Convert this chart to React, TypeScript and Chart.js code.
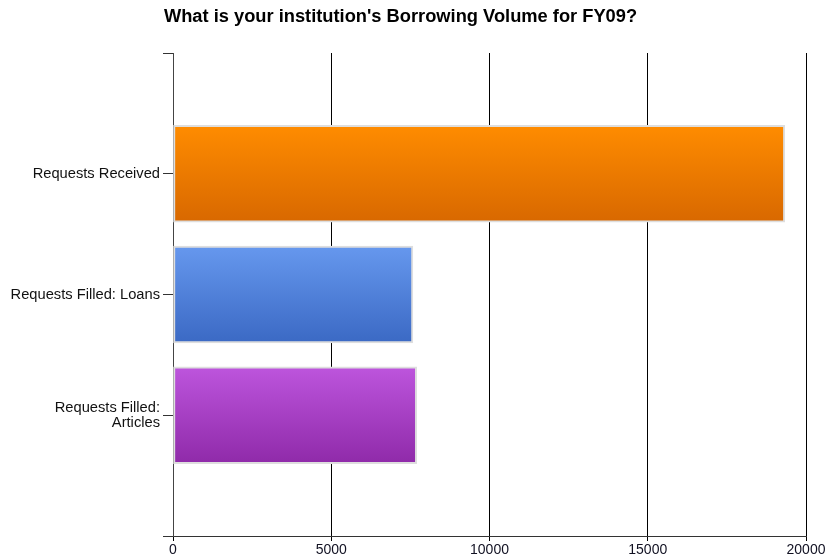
import React, { useEffect, useRef } from "react";
import { Chart, registerables } from "chart.js";

Chart.register(...registerables);

const TITLE = "What is your institution's Borrowing Volume for FY09?";
const categories: (string | string[])[] = [
  "",
  "Requests Received",
  "Requests Filled: Loans",
  ["Requests Filled:", "Articles"],
  "",
];
const values: (number | null)[] = [null, 19330, 7580, 7700, null];
const xTicks = [0, 5000, 10000, 15000, 20000];
const gradientTop = ["#ff8c00", "#ff8c00", "#6698ee", "#bd55dd", "#bd55dd"];
const gradientBottom = ["#d86800", "#d86800", "#3b69c4", "#8f2aa9", "#8f2aa9"];

const BAR_THICKNESS = 97;

const titlePlugin = {
  id: "customTitle",
  afterDraw(chart: any) {
    const ctx = chart.ctx;
    ctx.save();
    ctx.font = 'bold 18.3px "Liberation Sans", Arial, sans-serif';
    ctx.fillStyle = "#000";
    ctx.textAlign = "center";
    ctx.textBaseline = "alphabetic";
    ctx.fillText(TITLE, 400.5, 21.5);
    ctx.restore();
  },
};

export default function App() {
  const ref = useRef<HTMLCanvasElement>(null);

  useEffect(() => {
    if (!ref.current) return;
    const chart = new Chart(ref.current, {
      type: "bar",
      data: {
        labels: categories as any,
        datasets: [
          {
            data: values,
            barThickness: BAR_THICKNESS,
            borderWidth: 2,
            borderColor: "#dedede",
            borderSkipped: false,
            backgroundColor: (c: any) => {
              const i = c.dataIndex ?? 0;
              const chartObj = c.chart;
              const yScale = chartObj.scales?.y;
              if (!yScale || !chartObj.chartArea) return gradientTop[i];
              const cy = yScale.getPixelForValue(i);
              const g = chartObj.ctx.createLinearGradient(
                0,
                cy - BAR_THICKNESS / 2,
                0,
                cy + BAR_THICKNESS / 2
              );
              g.addColorStop(0, gradientTop[i]);
              g.addColorStop(1, gradientBottom[i]);
              return g;
            },
          },
        ],
      },
      options: {
        indexAxis: "y",
        responsive: false,
        animation: false,
        layout: { padding: { top: 53, right: 19, left: 0, bottom: 0 } },
        plugins: {
          legend: { display: false },
          title: { display: false },
          tooltip: { enabled: false },
        },
        scales: {
          x: {
            type: "linear",
            min: 0,
            max: 20000,
            afterBuildTicks: (s: any) => {
              s.ticks = xTicks.map((v) => ({ value: v }));
            },
            afterFit: (s: any) => {
              s.height = 24;
              s.paddingRight = 18;
              s.paddingLeft = 0;
            },
            ticks: {
              font: { family: '"Liberation Sans", Arial, sans-serif', size: 14 },
              color: "#111122",
              padding: 1,
              maxRotation: 0,
              callback: (v: any) => String(v),
            },
            grid: {
              color: "#000",
              lineWidth: 1,
              tickLength: 5,
              drawTicks: true,
            },
            border: { display: true, color: "#333", width: 1 },
          },
          y: {
            type: "category",
            offset: false,
            afterFit: (s: any) => {
              s.width = 173;
            },
            ticks: {
              font: {
                family: '"Liberation Sans", Arial, sans-serif',
                size: 14.7,
                lineHeight: 1.06,
              },
              color: "#111",
              padding: 3,
              autoSkip: false,
            },
            grid: {
              offset: false,
              drawOnChartArea: false,
              drawTicks: true,
              tickLength: 10,
              color: "#333",
            },
            border: { display: true, color: "#444", width: 1 },
          },
        },
      },
      plugins: [titlePlugin],
    } as any);
    return () => chart.destroy();
  }, []);

  return (
    <canvas
      ref={ref}
      width={825}
      height={560}
      style={{ position: "absolute", left: 0, top: 0, width: 825, height: 560 }}
    />
  );
}
